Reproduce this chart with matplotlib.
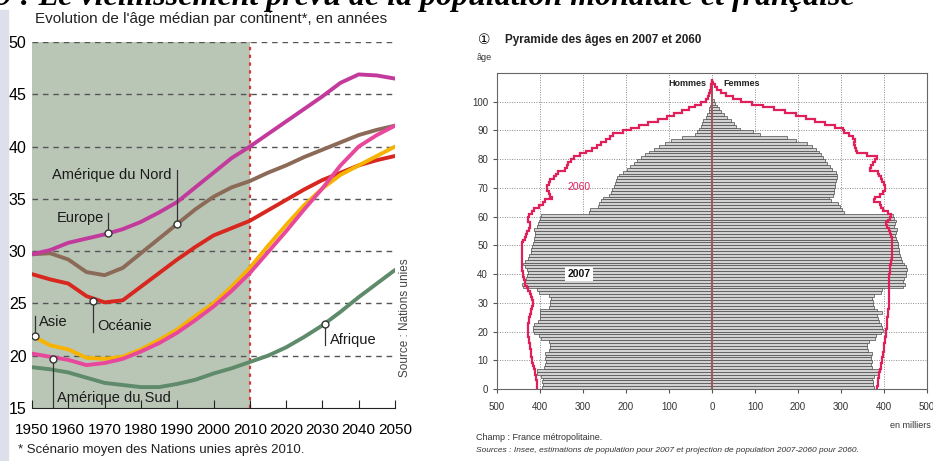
import numpy as np
import matplotlib
matplotlib.use("Agg")
import matplotlib.pyplot as plt
from matplotlib.patches import Rectangle

plt.rcParams['font.family'] = ['Liberation Sans', 'DejaVu Sans']

# ---- left chart : median age by continent ----
years = [1950, 1955, 1960, 1965, 1970, 1975, 1980, 1985, 1990, 1995, 2000,
         2005, 2010, 2015, 2020, 2025, 2030, 2035, 2040, 2045, 2050]
europe = [29.7, 30.1, 30.8, 31.2, 31.6, 32.1, 32.8, 33.7, 34.7, 36.1, 37.5,
          38.9, 40.0, 41.2, 42.4, 43.6, 44.8, 46.1, 46.9, 46.8, 46.5]
am_nord = [29.7, 29.8, 29.2, 28.0, 27.7, 28.4, 29.8, 31.2, 32.6, 34.0, 35.2,
           36.1, 36.7, 37.5, 38.2, 39.0, 39.7, 40.4, 41.1, 41.6, 42.0]
oceanie = [27.8, 27.3, 26.9, 25.7, 25.1, 25.3, 26.6, 27.9, 29.2, 30.4, 31.5,
           32.2, 32.9, 33.9, 34.9, 35.9, 36.8, 37.5, 38.2, 38.7, 39.1]
asie = [21.9, 21.0, 20.6, 19.8, 19.7, 19.9, 20.6, 21.5, 22.5, 23.8, 25.0,
        26.6, 28.4, 30.5, 32.5, 34.4, 36.0, 37.3, 38.2, 39.1, 40.0]
am_sud = [20.2, 19.9, 19.6, 19.1, 19.3, 19.7, 20.4, 21.2, 22.2, 23.4, 24.7,
          26.2, 27.9, 29.9, 31.9, 34.0, 36.0, 38.2, 40.0, 41.1, 42.0]
afrique = [18.9, 18.7, 18.4, 17.9, 17.4, 17.2, 17.0, 17.0, 17.3, 17.7, 18.3,
           18.8, 19.4, 20.0, 20.8, 21.8, 22.9, 24.2, 25.6, 26.9, 28.2]

# label, marker year, marker value, text x, text y, leader end
labels = [
    ("Amérique du Nord", 1990, 32.6, 1955.5, 37.3, 37.8),
    ("Europe", 1971, 31.7, 1956.9, 33.2, 33.6),
    ("Océanie", 1966.8, 25.2, 1968.0, 22.8, 22.3),
    ("Asie", 1950.8, 21.9, 1951.8, 23.2, 23.8),
    ("Amérique du Sud", 1955.8, 19.7, 1957.0, 16.0, 15.0),
    ("Afrique", 2030.7, 23.0, 2032.2, 21.5, 21.0),
]

# ---- right chart : French age pyramid, thousands ----
hommes_2007 = [396, 394, 395, 393, 397, 406, 407, 390, 388, 387, 388, 386, 389,
               378, 376, 377, 379, 398, 402, 414, 417, 416, 413, 404, 400,
               401, 399, 400, 379, 376, 377, 375, 378, 403, 406, 440, 443, 438,
               432, 430, 428, 431, 436, 440, 434, 428, 425, 422, 420, 418, 417,
               415, 413, 411, 412, 414, 407, 405, 402, 400, 398, 287, 283,
               265, 262, 258, 254, 240, 236, 232, 228, 226, 224, 221, 216, 208,
               198, 190, 182, 174, 166, 156, 146, 136, 124, 110, 96,
               70, 40, 36, 30, 26, 24, 20, 15, 11, 8, 6, 4, 3, 2]
femmes_2007 = [376, 374, 375, 373, 377, 386, 388, 372, 370, 371, 369, 370, 372,
               362, 360, 361, 364, 378, 382, 394, 397, 396, 393, 388, 385,
               384, 396, 383, 376, 374, 375, 373, 377, 392, 395, 445, 448, 444,
               446, 450, 452, 454, 452, 446, 442, 440, 438, 436, 435, 433, 432,
               430, 428, 426, 427, 430, 424, 426, 427, 424, 420, 306, 303,
               298, 294, 276, 272, 282, 284, 283, 285, 287, 288, 290, 291, 288,
               278, 274, 268, 262, 258, 254, 249, 242, 232, 222, 196,
               175, 112, 96, 66, 56, 50, 44, 36, 28, 22, 16, 12, 8, 5]
hommes_2060 = [407, 407, 408, 409, 410, 411, 412, 414, 416, 418,
               419, 420, 421, 422, 423, 424, 425, 426, 427, 428,
               428, 428, 427, 426, 425, 424, 422, 420, 418, 417,
               416, 418, 420, 424, 428, 431, 434, 436, 438, 440,
               440, 441, 441, 442, 442, 442, 442, 442, 442, 442,
               441, 440, 436, 433, 430, 425, 423, 424, 427, 428,
               426, 418, 414, 402, 392, 388, 372, 376, 380, 384,
               384, 380, 376, 368, 362, 358, 342, 338, 334, 327,
               320, 306, 292, 278, 268, 258, 246, 238, 230, 208,
               188, 170, 150, 126, 104, 88, 70, 54, 40, 26,
               14, 10, 7, 5, 3, 2, 1, 0]
femmes_2060 = [384, 385, 386, 387, 388, 389, 390, 392, 394, 395,
               396, 397, 398, 399, 400, 401, 402, 403, 404, 405,
               405, 406, 406, 407, 408, 409, 410, 410, 411, 412,
               412, 412, 412, 412, 412, 412, 412, 412, 412, 412,
               413, 414, 415, 416, 417, 418, 418, 419, 419, 419,
               419, 419, 418, 416, 414, 412, 408, 405, 410, 415,
               416, 410, 398, 394, 390, 376, 378, 390, 398, 402,
               402, 400, 396, 392, 388, 386, 367, 370, 375, 380,
               383, 360, 337, 334, 332, 330, 332, 328, 318, 306,
               305, 285, 262, 240, 218, 196, 170, 145, 118, 92,
               68, 48, 32, 20, 12, 6, 3, 0]


def fx(px):
    return px / 933.0


def fy(py):
    return 1 - py / 461.0


fig = plt.figure(figsize=(9.33, 4.61), dpi=100)
fig.patch.set_facecolor('white')
fig.patches.append(Rectangle((0, 0), fx(8), fy(10), transform=fig.transFigure,
                             color='#dde0ea', zorder=0))

fig.text(fx(-4), fy(5), "9 : Le vieillissement prévu de la population mondiale et française",
         family='Liberation Serif', fontsize=23, fontweight='bold', style='italic',
         va='baseline', ha='left')

# left
ax = fig.add_axes([fx(32), fy(408), fx(363), 366 / 461.0])
ax.set_xlim(1950, 2050)
ax.set_ylim(15, 50)
ax.axvspan(1950, 2010, color='#b9c6b6', zorder=0, lw=0)
for v in range(20, 51, 5):
    ax.axhline(v, color='#555555', lw=1, ls=(0, (4, 3.5)), zorder=1)
ax.axvline(2010, color='#d23a3a', lw=1.6, ls=(0, (1.5, 2)), zorder=1)

series = [(afrique, '#5f8b6b'), (am_nord, '#8c6a58'), (oceanie, '#d7271f'),
          (asie, '#f6b400'), (am_sud, '#e8489c'), (europe, '#c23a9b')]
for vals, c in series:
    ax.plot(years, vals, color=c, lw=2.8, solid_capstyle='round', zorder=3)

for txt, mx, my, tx, ty, ly in labels:
    ax.plot([mx, mx], [my, ly], color='#333333', lw=0.9, zorder=4)
    ax.plot(mx, my, 'o', ms=5, mfc='white', mec='#333333', mew=1, zorder=5)
    ax.text(tx, ty, txt, fontsize=10.5, color='#1a1a1a', va='center', ha='left', zorder=6)

for s in ['top', 'right', 'left']:
    ax.spines[s].set_visible(False)
ax.spines['bottom'].set_color('#222222')
ax.set_xticks(range(1950, 2051, 10))
ax.set_yticks(range(15, 51, 5))
ax.tick_params(axis='x', direction='in', length=6, labelsize=11, pad=11, color='#222222')
ax.tick_params(axis='y', length=0, labelsize=11.5, pad=4)

fig.text(fx(35), fy(19), "Evolution de l'âge médian par continent*, en années",
         fontsize=11, va='center', ha='left', color='#222222')
fig.text(fx(405), fy(318), "Source : Nations unies", rotation=90, fontsize=8.5,
         color='#444444', va='center', ha='center')
fig.text(fx(18), fy(450), "* Scénario moyen des Nations unies après 2010.",
         fontsize=9.5, va='center', ha='left', color='#222222')

# right
ax2 = fig.add_axes([fx(497), fy(389), fx(430), 316 / 461.0])
ax2.set_xlim(-500, 500)
ax2.set_ylim(0, 110)
ages07 = np.arange(len(hommes_2007))
ax2.barh(ages07, -np.array(hommes_2007), height=1, align='edge',
         color='#d2d2d2', edgecolor='#4a4a4a', lw=0.5, zorder=2)
ax2.barh(ages07, femmes_2007, height=1, align='edge',
         color='#d2d2d2', edgecolor='#4a4a4a', lw=0.5, zorder=2)
edges = np.arange(len(hommes_2060) + 1)
ax2.stairs(-np.array(hommes_2060), edges, orientation='horizontal', baseline=None,
           color='#e0205a', lw=1.6, zorder=4)
ax2.stairs(femmes_2060, edges, orientation='horizontal', baseline=None,
           color='#e0205a', lw=1.6, zorder=4)
ax2.axvline(0, color='#9a5a62', lw=1.5, ymax=107 / 110, zorder=3)

ax2.set_xticks(range(-500, 501, 100))
ax2.set_xticklabels([str(abs(v)) for v in range(-500, 501, 100)])
ax2.set_yticks(range(0, 101, 10))
ax2.grid(True, color='#8a8a8a', lw=0.7, ls=(0, (1, 1.5)), zorder=1)
ax2.set_axisbelow(True)
ax2.tick_params(labelsize=7, length=3, color='#555555', labelcolor='#333333')
ax2.tick_params(axis='x', pad=6)
for s in ax2.spines.values():
    s.set_color('#666666')
    s.set_linewidth(0.8)

ax2.text(-12, 106.5, "Hommes", fontsize=6.5, fontweight='bold', ha='right', va='center',
         color='#222222', bbox=dict(fc='white', ec='none', pad=0.5), zorder=5)
ax2.text(26, 106.5, "Femmes", fontsize=6.5, fontweight='bold', ha='left', va='center',
         color='#222222', bbox=dict(fc='white', ec='none', pad=0.5), zorder=5)
ax2.text(-309, 70.4, "2060", fontsize=7.5, ha='center', va='center', color='#e0205a', zorder=5)
ax2.text(-309, 40, "2007", fontsize=7.5, fontweight='bold', ha='center', va='center',
         color='#111111', bbox=dict(fc='white', ec='none', pad=1.5), zorder=5)

fig.text(fx(478), fy(40), "\u2460", family=['DejaVu Sans'], fontsize=10, va='center', ha='left')
fig.text(fx(505), fy(40), "Pyramide des âges en 2007 et 2060", fontsize=8.5,
         fontweight='bold', va='center', ha='left', color='#222222')
fig.text(fx(477), fy(57), "âge", fontsize=6.5, va='center', ha='left', color='#333333')
fig.text(fx(931), fy(425), "en milliers", fontsize=6.5, va='center', ha='right', color='#333333')
fig.text(fx(476), fy(437), "Champ : France métropolitaine.", fontsize=6.5,
         va='center', ha='left', color='#333333')
fig.text(fx(476), fy(450),
         "Sources : Insee, estimations de population pour 2007 et projection de population 2007-2060 pour 2060.",
         fontsize=6, style='italic', va='center', ha='left', color='#333333')

fig.savefig('out.png', dpi=100)
